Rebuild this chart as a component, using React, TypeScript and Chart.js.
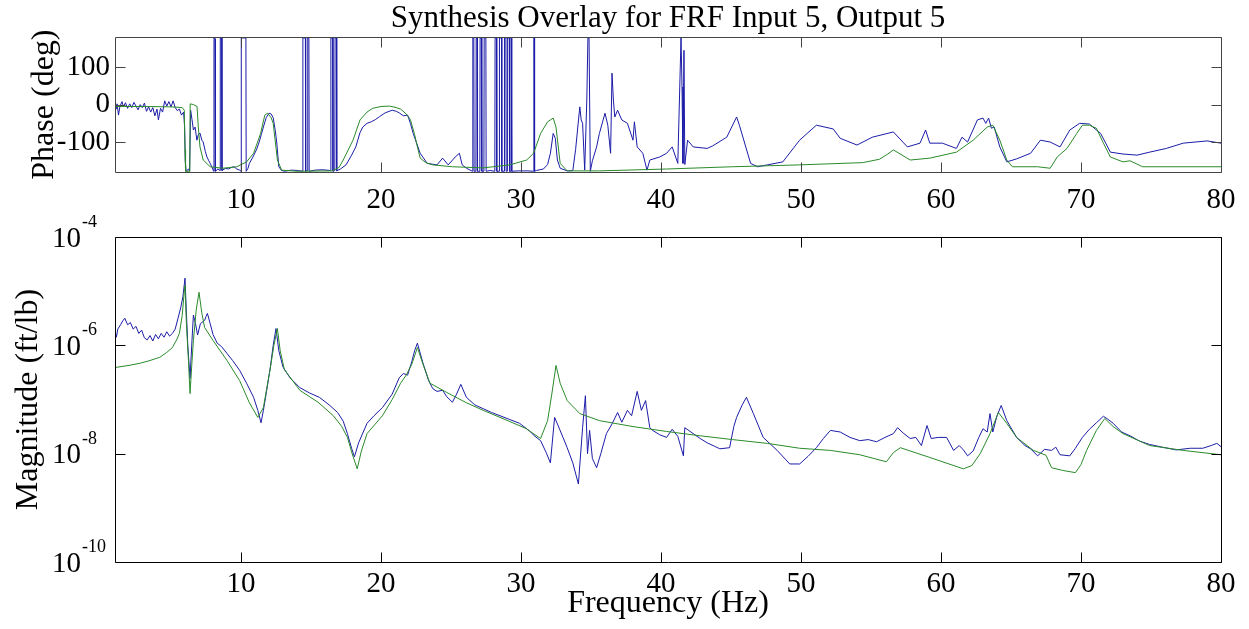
import React, { useEffect, useRef } from 'react';
import { Chart, registerables } from 'chart.js';

Chart.register(...registerables);

const FONT = '"Liberation Serif", "Times New Roman", serif';
const TITLE = 'Synthesis Overlay for FRF Input 5, Output 5';

const freqTicks = [10, 20, 30, 40, 50, 60, 70, 80];
const phaseTicks = [-100, 0, 100];
const magTickExponents = [-10, -8, -6, -4];

// Phase, measured (blue): [frequency Hz, phase deg]
const phaseMeasured: [number, number][] = [
  [1.0, 20], [1.08, -12], [1.15, 2], [1.25, -28], [1.35, -5], [1.5, 8], [1.6, -6], [1.75, 5], [1.9, -10],
  [2.05, 2], [2.2, -8], [2.35, 6], [2.5, -4], [2.65, -14], [2.8, 0], [2.95, -8], [3.1, 4], [3.25, -18],
  [3.4, -6], [3.55, -20], [3.7, -8], [3.85, -30], [4.0, -12], [4.1, -41], [4.25, -10], [4.4, -20],
  [4.55, 10], [4.7, -4], [4.85, 8], [5.0, -6], [5.15, 10], [5.3, -8], [5.45, -16], [5.6, -12], [5.75, -28],
  [5.9, -20], [5.97, -60], [6.02, -150], [6.08, -178], [6.25, -172], [6.33, -178], [6.4, -15], [6.5, -40],
  [6.6, -68], [6.72, -60], [6.85, -95], [6.95, -80], [7.07, -76], [7.2, -95], [7.3, -100], [7.45, -125],
  [7.57, -140], [7.7, -150], [7.8, -157], [7.95, -169], [8.05, -178], [8.07, 178], [8.15, 176], [8.17, -178],
  [8.35, -172], [8.5, -176], [8.52, 178], [8.62, 178], [8.64, -176], [8.9, -170], [9.1, -172], [9.3, -168],
  [9.5, -166], [9.7, -172], [9.9, -175], [10.0, -178], [10.02, 178], [10.35, 178], [10.37, -178], [10.5, -170],
  [10.6, -157], [10.85, -140], [11.1, -121], [11.3, -100], [11.45, -80], [11.6, -60], [11.8, -35], [12.0, -23],
  [12.15, -25], [12.3, -35], [12.45, -70], [12.55, -100], [12.7, -166], [12.9, -176], [13.1, -178],
  [13.6, -175], [14.1, -176], [14.4, -178], [14.42, 178], [14.6, 178], [14.62, -178], [14.75, -176],
  [14.77, 178], [14.85, 178], [14.87, -178], [15.3, -175], [15.8, -174], [16.4, -176], [16.42, 178],
  [16.55, 178], [16.57, -178], [16.7, -176], [16.72, 178], [16.82, 178], [16.84, -177], [17.1, -172],
  [17.5, -161], [17.9, -135], [18.2, -113], [18.5, -75], [18.7, -60], [19.0, -50], [19.3, -46], [19.6, -40],
  [19.9, -32], [20.3, -22], [20.8, -15], [21.1, -18], [21.3, -22], [21.6, -30], [21.9, -28], [22.1, -50],
  [22.3, -77], [22.8, -130], [23.3, -157], [24.0, -161], [24.4, -143], [24.8, -161], [25.3, -140],
  [25.6, -130], [25.8, -161], [26.1, -170], [26.54, -178], [26.56, 178], [26.63, 178], [26.65, -178],
  [26.78, -178], [26.8, 178], [26.87, 178], [26.89, -178], [27.06, -178], [27.08, 178], [27.18, 178],
  [27.2, -178], [27.35, -178], [27.37, 178], [27.49, 178], [27.51, -178], [27.8, -176], [28.13, -178],
  [28.15, 178], [28.25, 178], [28.27, -178], [28.44, -178], [28.46, 178], [28.61, 178], [28.63, -178],
  [28.8, -178], [28.82, 178], [28.92, 178], [28.94, -178], [29.01, -178], [29.03, 178], [29.16, 178],
  [29.18, -178], [29.28, -178], [29.3, 178], [29.33, 178], [29.35, -178], [29.8, -177], [30.5, -177],
  [30.9, -178], [30.92, 178], [30.95, 178], [30.97, -178], [31.1, -176], [31.6, -172], [31.9, -160],
  [32.1, -130], [32.3, -77], [32.45, -90], [32.6, -148], [32.8, -170], [33.3, -177], [33.7, -176],
  [33.9, -120], [34.2, -6], [34.3, -41], [34.4, -50], [34.55, -175], [34.7, 12], [34.78, 178], [34.86, 178],
  [34.95, -178], [35.1, -150], [35.4, -113], [35.6, -77], [36.0, -23], [36.2, -55], [36.4, -130], [36.5, 84],
  [36.6, 12], [36.7, -33], [36.9, -15], [37.2, -41], [37.6, -50], [38.0, -95], [38.1, -46], [38.3, -113],
  [38.7, -130], [39.0, -175], [39.2, -148], [39.9, -140], [40.4, -130], [40.8, -113], [41.0, -135],
  [41.2, -157], [41.43, 178], [41.5, 47], [41.57, -157], [41.64, 145], [41.7, -160], [41.9, -95],
  [42.3, -113], [43.3, -117], [43.7, -110], [44.7, -87], [45.4, -33], [45.6, -55], [46.4, -157],
  [46.9, -166], [47.6, -161], [48.7, -153], [49.9, -95], [51.1, -55], [52.3, -65], [52.8, -90], [54.0, -108],
  [55.1, -87], [56.6, -73], [57.6, -113], [58.5, -103], [58.9, -68], [59.2, -103], [60.1, -103],
  [61.1, -117], [61.5, -87], [61.9, -100], [62.6, -41], [63.0, -36], [63.2, -50], [63.4, -36], [63.6, -63],
  [63.8, -60], [64.2, -113], [64.7, -153], [65.4, -145], [66.4, -130], [67.1, -95], [67.8, -100],
  [68.5, -113], [69.2, -68], [69.9, -50], [70.6, -52], [71.4, -77], [72.1, -127], [73.0, -132], [74.0, -135],
  [74.9, -127], [76.1, -117], [77.3, -103], [79.0, -97], [80.0, -103],
];

// Phase, synthesized (green): [frequency Hz, phase deg]
const phaseSynth: [number, number][] = [
  [1.0, -5], [3.0, -5], [5.0, -6], [5.8, -8], [5.95, -15], [6.0, -120], [6.04, -178], [6.34, -178],
  [6.37, 2], [6.6, 0], [6.86, -5], [6.95, -60], [7.07, -113], [7.3, -148], [7.8, -166], [8.7, -170],
  [9.7, -166], [10.4, -153], [10.9, -130], [11.4, -77], [11.7, -28], [11.9, -23], [12.15, -35], [12.3, -50],
  [12.6, -148], [12.9, -175], [14.0, -178], [16.5, -177], [17.0, -168], [17.3, -148], [18.0, -95],
  [18.5, -41], [19.0, -20], [19.4, -10], [20.0, -5], [20.6, -4], [21.0, -7], [21.4, -12], [21.8, -25],
  [22.1, -40], [22.4, -80], [22.6, -113], [22.8, -143], [23.2, -155], [23.7, -161], [25.1, -166],
  [27.3, -169], [29.2, -161], [30.4, -148], [30.9, -130], [31.4, -77], [31.9, -46], [32.3, -36], [32.5, -60],
  [32.8, -157], [33.3, -177], [35.6, -177], [40.4, -172], [45.1, -166], [49.9, -161], [54.4, -155],
  [55.6, -146], [56.2, -132], [56.6, -121], [57.0, -130], [57.8, -148], [59.2, -143], [61.1, -127],
  [62.3, -95], [63.3, -60], [63.7, -55], [64.2, -95], [64.7, -148], [65.1, -166], [66.9, -166], [67.8, -170],
  [68.3, -140], [69.0, -117], [69.7, -77], [70.1, -55], [70.6, -55], [71.1, -63], [71.6, -103], [72.1, -140],
  [73.0, -153], [73.5, -150], [74.4, -166], [80.0, -166],
];

// Magnitude, measured (blue): [frequency Hz, log10 of magnitude in ft/lb]
const magMeasured: [number, number][] = [
  [1.0, -5.72], [1.1, -5.85], [1.2, -5.7], [1.4, -5.62], [1.55, -5.55], [1.7, -5.5], [1.9, -5.62], [2.1, -5.58],
  [2.3, -5.7], [2.5, -5.65], [2.7, -5.78], [2.9, -5.72], [3.1, -5.86], [3.3, -5.9], [3.5, -5.82], [3.7, -5.92],
  [3.9, -5.8], [4.1, -5.88], [4.3, -5.78], [4.5, -5.85], [4.7, -5.75], [4.9, -5.83], [5.1, -5.78], [5.3, -5.7],
  [5.5, -5.5], [5.7, -5.3], [5.85, -5.1], [6.0, -4.76], [6.1, -5.4], [6.2, -6.0], [6.36, -6.61], [6.5, -5.9],
  [6.6, -5.44], [6.75, -5.6], [6.9, -5.81], [7.1, -5.6], [7.4, -5.54], [7.5, -5.47], [7.6, -5.41], [7.8, -5.6],
  [8.0, -5.8], [8.3, -5.96], [8.6, -6.02], [9.0, -6.15], [9.4, -6.28], [9.9, -6.46], [10.4, -6.7], [10.9, -6.96],
  [11.2, -7.2], [11.43, -7.43], [11.6, -7.2], [11.8, -6.89], [12.1, -6.4], [12.3, -6.0], [12.5, -5.69],
  [12.7, -6.1], [13.0, -6.4], [13.5, -6.6], [14.2, -6.78], [14.9, -6.88], [15.6, -6.96], [16.3, -7.1],
  [16.9, -7.24], [17.3, -7.4], [17.6, -7.63], [17.9, -7.9], [18.1, -8.06], [18.4, -7.8], [19.0, -7.44],
  [19.5, -7.3], [20.1, -7.15], [20.8, -6.9], [21.3, -6.6], [21.6, -6.52], [21.9, -6.55], [22.2, -6.3],
  [22.4, -6.1], [22.6, -5.96], [23.0, -6.33], [23.4, -6.65], [23.7, -6.8], [24.0, -6.85], [24.4, -6.83],
  [24.7, -6.95], [25.1, -7.05], [25.4, -6.9], [25.7, -6.72], [26.1, -6.96], [26.7, -7.1], [27.3, -7.17],
  [27.9, -7.24], [28.5, -7.3], [29.2, -7.37], [29.9, -7.44], [30.6, -7.58], [31.0, -7.68], [31.4, -7.76],
  [31.8, -7.98], [32.1, -8.17], [32.4, -7.33], [32.6, -7.45], [33.0, -7.7], [33.3, -7.89], [33.7, -8.17],
  [34.1, -8.56], [34.4, -7.52], [34.6, -6.93], [34.75, -8.0], [34.9, -7.57], [35.1, -8.09], [35.4, -8.26],
  [35.7, -8.0], [36.1, -7.63], [36.5, -7.45], [36.9, -7.24], [37.2, -7.42], [37.6, -7.2], [37.9, -7.3],
  [38.3, -6.85], [38.6, -7.2], [38.9, -7.02], [39.2, -7.52], [39.4, -7.57], [39.9, -7.65], [40.4, -7.7],
  [40.8, -7.55], [41.2, -7.68], [41.6, -8.04], [41.7, -7.52], [42.3, -7.63], [42.8, -7.72], [43.3, -7.8],
  [43.8, -7.86], [44.2, -7.91], [44.9, -7.89], [45.2, -7.5], [45.4, -7.33], [45.8, -7.1], [46.1, -6.96],
  [46.6, -7.26], [47.3, -7.7], [48.3, -7.94], [49.2, -8.19], [49.9, -8.19], [50.5, -8.05], [51.1, -7.89],
  [51.6, -7.72], [52.1, -7.57], [52.8, -7.6], [53.5, -7.7], [54.2, -7.76], [54.8, -7.74], [55.4, -7.78],
  [56.0, -7.7], [56.6, -7.63], [56.9, -7.52], [57.3, -7.62], [57.8, -7.72], [58.2, -7.7], [58.6, -7.85],
  [59.0, -7.48], [59.3, -7.72], [59.8, -7.7], [60.4, -7.7], [60.9, -7.94], [61.3, -7.85], [61.6, -7.93],
  [61.9, -8.04], [62.3, -7.95], [62.7, -7.7], [63.0, -7.54], [63.3, -7.6], [63.5, -7.26], [63.7, -7.6],
  [64.0, -7.3], [64.3, -7.11], [64.7, -7.39], [65.4, -7.7], [66.0, -7.85], [66.4, -7.91], [66.9, -8.04],
  [67.4, -7.92], [67.9, -7.94], [68.2, -7.88], [68.5, -8.02], [69.2, -8.04], [69.6, -7.9], [70.1, -7.7],
  [70.6, -7.55], [71.1, -7.43], [71.6, -7.31], [71.9, -7.36], [72.3, -7.44], [72.9, -7.6], [73.5, -7.67],
  [74.2, -7.77], [74.9, -7.83], [75.8, -7.88], [76.8, -7.93], [77.8, -7.9], [78.7, -7.9], [79.3, -7.85],
  [79.7, -7.81], [80.0, -7.87],
];

// Magnitude, synthesized (green): [frequency Hz, log10 of magnitude in ft/lb]
const magSynth: [number, number][] = [
  [1.0, -6.41], [2.0, -6.37], [2.8, -6.33], [3.5, -6.28], [4.2, -6.22], [4.7, -6.13], [5.1, -6.04],
  [5.4, -5.9], [5.6, -5.78], [5.8, -5.45], [5.95, -5.0], [6.0, -4.89], [6.1, -5.6], [6.25, -6.3],
  [6.36, -6.89], [6.5, -6.3], [6.6, -5.91], [6.8, -5.35], [7.0, -5.02], [7.2, -5.4], [7.4, -5.67],
  [8.0, -5.91], [9.0, -6.28], [9.9, -6.65], [10.6, -7.06], [11.2, -7.33], [11.6, -7.15], [12.1, -6.41],
  [12.35, -6.0], [12.6, -5.69], [12.8, -6.1], [13.1, -6.45], [14.2, -6.83], [15.5, -7.05], [16.6, -7.3],
  [17.2, -7.5], [17.6, -7.7], [18.0, -8.05], [18.3, -8.28], [18.6, -7.95], [19.0, -7.63], [20.1, -7.3],
  [20.8, -7.0], [21.4, -6.7], [21.8, -6.55], [22.2, -6.35], [22.6, -6.04], [23.0, -6.35], [23.5, -6.7],
  [24.7, -6.87], [26.1, -7.06], [27.3, -7.2], [28.5, -7.33], [29.5, -7.44], [30.4, -7.54], [31.0, -7.65],
  [31.4, -7.72], [31.9, -7.39], [32.2, -6.9], [32.5, -6.37], [32.8, -6.7], [33.3, -7.02], [34.2, -7.26],
  [35.6, -7.39], [38.0, -7.5], [40.4, -7.59], [42.8, -7.67], [45.1, -7.74], [47.6, -7.81], [49.9, -7.9],
  [52.1, -7.94], [54.2, -8.02], [56.1, -8.15], [56.6, -7.98], [57.1, -7.89], [59.2, -8.07], [61.6, -8.28],
  [62.2, -8.22], [62.8, -8.0], [63.5, -7.63], [64.1, -7.24], [64.7, -7.44], [65.4, -7.7], [66.6, -7.94],
  [67.5, -8.03], [67.9, -8.26], [68.7, -8.31], [69.6, -8.35], [70.0, -8.2], [70.4, -7.94], [71.1, -7.57],
  [71.7, -7.35], [72.3, -7.5], [73.0, -7.63], [74.9, -7.85], [77.3, -7.94], [80.0, -8.02],
];

const BLUE = '#1c1ca8';
const GREEN = '#2a8a2a';

const toPoints = (arr: [number, number][]) => arr.map(([x, y]) => ({ x, y }));
const toMagPoints = (arr: [number, number][]) => arr.map(([x, e]) => ({ x, y: Math.pow(10, e) }));

const framePlugin = {
  id: 'matlabFrame',
  afterDraw(chart: any, _args: any, opts: any) {
    const { ctx, chartArea: a } = chart;
    const xs = chart.scales.x;
    const ys = chart.scales.y;
    const L = 10;
    const left = Math.round(a.left) + 0.5;
    const right = Math.round(a.right) + 0.5;
    const top = Math.round(a.top) + 0.5;
    const bottom = Math.round(a.bottom) + 0.5;
    ctx.save();
    ctx.strokeStyle = opts.color || '#000';
    ctx.lineWidth = 1;
    ctx.beginPath();
    ctx.moveTo(left, top);
    ctx.lineTo(right, top);
    ctx.lineTo(right, bottom);
    ctx.lineTo(left, bottom);
    ctx.closePath();
    for (const v of opts.xTicks || []) {
      const px = Math.round(xs.getPixelForValue(v)) + 0.5;
      ctx.moveTo(px, bottom);
      ctx.lineTo(px, bottom - L);
      ctx.moveTo(px, top);
      ctx.lineTo(px, top + L);
    }
    for (const v of opts.yTicks || []) {
      const py = Math.round(ys.getPixelForValue(v)) + 0.5;
      ctx.moveTo(left, py);
      ctx.lineTo(left + L, py);
      ctx.moveTo(right, py);
      ctx.lineTo(right - L, py);
    }
    ctx.stroke();
    ctx.restore();
  },
};

const logLabelPlugin = {
  id: 'logLabels',
  afterDraw(chart: any) {
    const { ctx } = chart;
    const ys = chart.scales.y;
    ctx.save();
    ctx.fillStyle = '#000';
    ctx.textAlign = 'left';
    for (const e of magTickExponents) {
      const py = ys.getPixelForValue(Math.pow(10, e));
      ctx.font = `29px ${FONT}`;
      ctx.textBaseline = 'middle';
      ctx.fillText('10', 52, py + 2);
      const w = ctx.measureText('10').width;
      ctx.font = `18px ${FONT}`;
      ctx.textBaseline = 'alphabetic';
      ctx.fillText(String(e), 52 + w + 1, py - 10);
    }
    ctx.restore();
  },
};

const tickFont = { family: FONT, size: 29 };
const labelFont = { family: FONT, size: 32 };

export default function App() {
  const phaseRef = useRef<HTMLCanvasElement | null>(null);
  const magRef = useRef<HTMLCanvasElement | null>(null);

  useEffect(() => {
    if (!phaseRef.current || !magRef.current) return;

    const xScale = (height: number, padding: number, withTitle: boolean) => ({
      type: 'linear',
      min: 1,
      max: 80,
      afterBuildTicks: (s: any) => {
        s.ticks = freqTicks.map((v) => ({ value: v }));
      },
      afterFit: (s: any) => {
        s.height = height;
      },
      ticks: { font: tickFont, color: '#000', padding, maxRotation: 0, minRotation: 0, autoSkip: false },
      grid: { display: false, drawTicks: false },
      border: { display: false },
      title: withTitle
        ? { display: true, text: 'Frequency (Hz)', font: labelFont, color: '#000', padding: { top: 0, bottom: 6 } }
        : { display: false },
    });

    const phaseChart = new Chart(phaseRef.current, {
      type: 'line',
      data: {
        datasets: [
          { data: toPoints(phaseSynth), borderColor: GREEN, borderWidth: 1, pointRadius: 0, tension: 0 },
          { data: toPoints(phaseMeasured), borderColor: BLUE, borderWidth: 1, pointRadius: 0, tension: 0 },
        ],
      },
      options: {
        animation: false,
        responsive: true,
        maintainAspectRatio: false,
        layout: { padding: { left: 0, right: 28, top: 0, bottom: 0 } },
        plugins: {
          legend: { display: false },
          tooltip: { enabled: false },
          title: {
            display: true,
            text: TITLE,
            font: { family: FONT, size: 31, weight: 'normal' },
            color: '#000',
            padding: { top: 0, bottom: 0 },
            fullSize: false,
          },
          matlabFrame: { xTicks: freqTicks, yTicks: phaseTicks, color: '#444' },
        } as any,
        scales: {
          x: xScale(43, 11, false) as any,
          y: {
            type: 'linear',
            min: -180,
            max: 180,
            afterBuildTicks: (s: any) => {
              s.ticks = phaseTicks.map((v) => ({ value: v }));
            },
            afterFit: (s: any) => {
              s.width = 115;
            },
            ticks: { font: tickFont, color: '#000', padding: 5 },
            grid: { display: false, drawTicks: false },
            border: { display: false },
            title: { display: true, text: 'Phase (deg)', font: labelFont, color: '#000', padding: { top: 25, bottom: 0 } },
          },
        },
      },
      plugins: [framePlugin],
    });

    const magChart = new Chart(magRef.current, {
      type: 'line',
      data: {
        datasets: [
          { data: toMagPoints(magSynth), borderColor: GREEN, borderWidth: 1, pointRadius: 0, tension: 0 },
          { data: toMagPoints(magMeasured), borderColor: BLUE, borderWidth: 1, pointRadius: 0, tension: 0 },
        ],
      },
      options: {
        animation: false,
        responsive: true,
        maintainAspectRatio: false,
        layout: { padding: { left: 0, right: 28, top: 22, bottom: 0 } },
        plugins: {
          legend: { display: false },
          tooltip: { enabled: false },
          title: { display: false },
          matlabFrame: { xTicks: freqTicks, yTicks: magTickExponents.map((e) => Math.pow(10, e)), color: '#000' },
        } as any,
        scales: {
          x: xScale(67, 5, true) as any,
          y: {
            type: 'logarithmic',
            min: 1e-10,
            max: 1e-4,
            afterBuildTicks: (s: any) => {
              s.ticks = magTickExponents.map((e) => ({ value: Math.pow(10, e) }));
            },
            afterFit: (s: any) => {
              s.width = 115;
            },
            ticks: { display: false },
            grid: { display: false, drawTicks: false },
            border: { display: false },
            title: { display: true, text: 'Magnitude (ft/lb)', font: labelFont, color: '#000', padding: { top: 9, bottom: 0 } },
          },
        },
      },
      plugins: [framePlugin, logLabelPlugin],
    });

    return () => {
      phaseChart.destroy();
      magChart.destroy();
    };
  }, []);

  return (
    <div style={{ position: 'absolute', left: 0, top: 0, width: 1249, height: 629, background: '#fff' }}>
      <div style={{ position: 'absolute', left: 0, top: 0, width: 1249, height: 215 }}>
        <canvas ref={phaseRef} />
      </div>
      <div style={{ position: 'absolute', left: 0, top: 215, width: 1249, height: 414 }}>
        <canvas ref={magRef} />
      </div>
    </div>
  );
}
